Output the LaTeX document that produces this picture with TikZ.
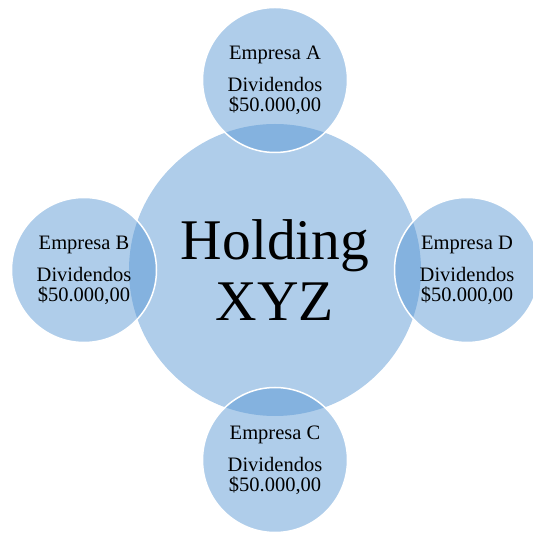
\documentclass[tikz,border=0pt]{standalone}
\usepackage{fontspec}
\setmainfont{Liberation Serif}
\usepackage{tikz}
\definecolor{holdblue}{RGB}{81,146,209}

\begin{document}
\begin{tikzpicture}[
    x=1pt,y=1pt,
    hub/.style={circle,inner sep=0pt,minimum size=292pt,fill=holdblue,
      fill opacity=0.46,text opacity=1,align=center,
      font=\fontsize{57.5}{61}\selectfont},
    firm/.style={circle,inner sep=0pt,minimum size=145pt,fill=holdblue,
      fill opacity=0.46,text opacity=1,draw=white,line width=1.5pt,
      align=center,font=\fontsize{20.5}{20}\selectfont}
    ]
    \useasboundingbox (-275,-264) rectangle (257,270);
    \node[hub] (holding) at (0,0) {Holding\\XYZ};
    \node[firm] (empA) at (0,190) {Empresa A\\[12pt]Dividendos\\\$50.000,00};
    \node[firm] (empB) at (-191,0) {Empresa B\\[12pt]Dividendos\\\$50.000,00};
    \node[firm] (empC) at (0,-190) {Empresa C\\[12pt]Dividendos\\\$50.000,00};
    \node[firm] (empD) at (192,0) {Empresa D\\[12pt]Dividendos\\\$50.000,00};
  \end{tikzpicture}
\end{document}
